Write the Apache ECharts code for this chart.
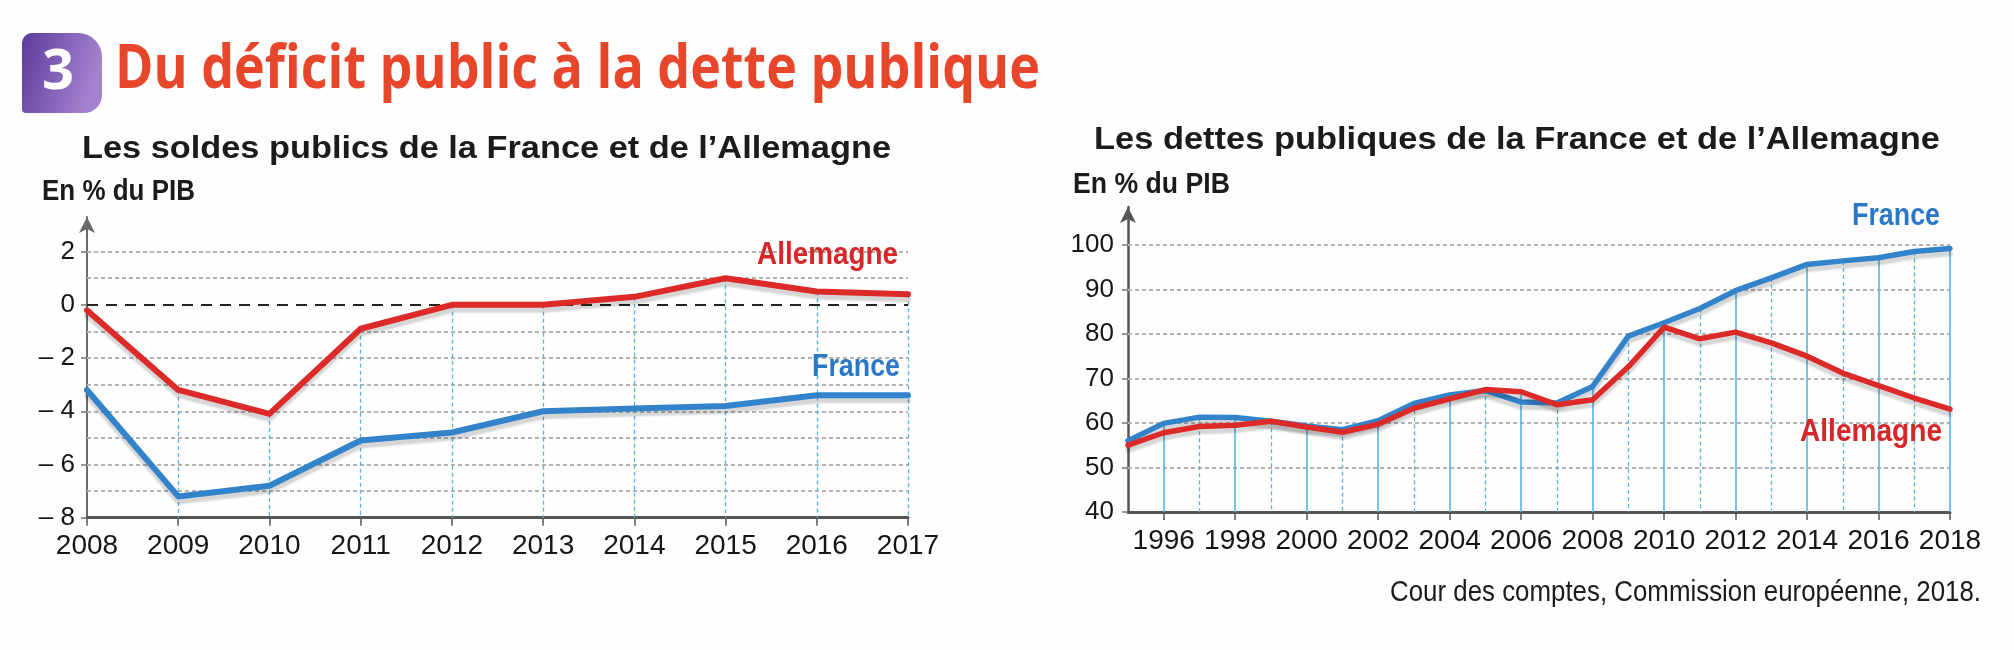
<!DOCTYPE html>
<html>
<head>
<meta charset="utf-8">
<script src="https://cdn.jsdelivr.net/npm/echarts@6/dist/echarts.min.js"></script>
<style>
html,body{margin:0;padding:0;background:#fefefe;}
#chart{width:2014px;height:650px;}
</style>
</head>
<body>
<div id="chart"></div>
<script>
// ---------- DATA ----------
const soldesYears = ['2008','2009','2010','2011','2012','2013','2014','2015','2016','2017'];
const soldesFrance = [-3.2,-7.2,-6.8,-5.1,-4.8,-4.0,-3.9,-3.8,-3.4,-3.4];
const soldesAllemagne = [-0.2,-3.2,-4.1,-0.9,0.0,0.0,0.3,1.0,0.5,0.4];
const soldesTicks = [-8,-6,-4,-2,0,2];
const soldesGrid = [-7,-6,-5,-4,-3,-2,-1,1,2];

const detteYears = ['1995','1996','1997','1998','1999','2000','2001','2002','2003','2004','2005','2006',
  '2007','2008','2009','2010','2011','2012','2013','2014','2015','2016','2017','2018'];
const detteFrance = [56.0,59.9,61.3,61.2,60.4,59.3,58.5,60.5,64.4,66.3,67.3,64.7,
  64.5,68.2,79.5,82.5,85.7,89.7,92.6,95.6,96.4,97.1,98.5,99.2];
const detteAllemagne = [55.0,57.8,59.2,59.5,60.4,59.1,57.9,59.7,63.3,65.4,67.5,67.0,
  64.1,65.2,72.6,81.5,78.9,80.4,78.0,75.0,71.2,68.4,65.6,63.1];
const detteTicks = [40,50,60,70,80,90,100];
const detteGrid = [50,60,70,80,90,100];

const soldesMin = -8, soldesMax = 3.3;
const detteMin = 40, detteMax = 108.5;

// ---------- HELPERS ----------
const ctx = document.createElement('canvas').getContext('2d');
function fitScale(text, font, target){
  ctx.font = font;
  return target / ctx.measureText(text).width;
}

const RED = '#dc2a28', BLUE = '#3383cb';
const RED_T = '#d6262a', BLUE_T = '#2c78c6';

function txt(text, x, y, opts){
  const font = (opts.weight||'bold') + ' ' + opts.size + 'px ' + (opts.family||'"Liberation Sans"');
  const sx = opts.width ? fitScale(text, font, opts.width) : 1;
  return {
    type:'text', x:x, y:y, scaleX:sx, z:100,
    style:{
      text:text, x:0, y:0,
      font: font,
      fill: opts.color || '#1b1b1b',
      textAlign: opts.align || 'left',
      textVerticalAlign: 'middle'
    }
  };
}

const negFmt = v => v < 0 ? '\u2013 ' + (-v) : String(v);

function dropLines(years, a, b, bottom, oddDashed){
  return years.map((y,i)=>{
    if (i === 0) return null;
    const dashed = oddDashed ? (+y % 2 === 1) : true;
    return [
      {coord:[y, Math.max(a[i], b[i])], lineStyle:{type: dashed ? [4,3] : 'solid', width: dashed ? 1.3 : 1.6}},
      {coord:[y, bottom]}
    ];
  }).filter(Boolean);
}

const gridLineStyle = {color:'#b3b3b3', width:2, type:[4,3]};
const dropStyle = {color:'#5ab4df', width:1.4};

const lineSeries = (name, xi, data, color, width) => ({
  type:'line', name:name, xAxisIndex:xi, yAxisIndex:xi, data:data,
  symbol:'none', z:10, silent:true, emphasis:{disabled:true},
  lineStyle:{color:color, width:width, cap:'round', join:'round',
    shadowColor:'rgba(0,0,0,0.16)', shadowOffsetY:5, shadowBlur:2}
});

const axisLabelBase = {color:'#161616', fontFamily:'"Liberation Sans", Arial, sans-serif'};

const option = {
  backgroundColor:'#fefefe',
  animation:false,
  grid:[
    {left:87, right:2014-908, top:217, bottom:650-517.7},
    {left:1128, right:2014-1950, top:207, bottom:650-512}
  ],
  xAxis:[
    {gridIndex:0, type:'category', boundaryGap:false, data:soldesYears,
      axisLine:{onZero:false, lineStyle:{color:'#555', width:3}},
      axisTick:{show:true, length:8, lineStyle:{color:'#555', width:1.5}},
      axisLabel:Object.assign({fontSize:28, margin:15}, axisLabelBase),
      splitLine:{show:false}},
    {gridIndex:1, type:'category', boundaryGap:false, data:detteYears,
      axisLine:{onZero:false, lineStyle:{color:'#555', width:3}},
      axisTick:{show:true, length:8, interval:(i,v)=>(+v)%2===0, lineStyle:{color:'#555', width:1.5}},
      axisLabel:Object.assign({fontSize:28, margin:15, interval:(i,v)=>(+v)%2===0}, axisLabelBase),
      splitLine:{show:false}}
  ],
  yAxis:[
    {gridIndex:0, type:'value', min:soldesMin, max:soldesMax,
      axisLine:{show:true, symbol:['none','arrow'], symbolSize:[12,16], lineStyle:{color:'#6a6a6a', width:2}},
      axisTick:{show:true, length:6, customValues:soldesTicks, lineStyle:{color:'#777', width:1.5}},
      axisLabel:Object.assign({fontSize:26, margin:12, customValues:soldesTicks, formatter:negFmt}, axisLabelBase),
      splitLine:{show:false}},
    {gridIndex:1, type:'value', min:detteMin, max:detteMax,
      axisLine:{show:true, symbol:['none','arrow'], symbolSize:[12,16], lineStyle:{color:'#555', width:2.5}},
      axisTick:{show:true, length:6, customValues:detteTicks, lineStyle:{color:'#777', width:1.5}},
      axisLabel:Object.assign({fontSize:26, margin:14, customValues:detteTicks}, axisLabelBase),
      splitLine:{show:false}}
  ],
  series:[
    {type:'line', xAxisIndex:0, yAxisIndex:0, data:soldesYears.map(()=>null), silent:true,
      markLine:{silent:true, z:1, symbol:['none','none'], label:{show:false}, animation:false,
        lineStyle:gridLineStyle, data:soldesGrid.map(v=>({yAxis:v}))}},
    {type:'line', xAxisIndex:0, yAxisIndex:0, data:soldesYears.map(()=>null), silent:true,
      markLine:{silent:true, z:2, symbol:['none','none'], label:{show:false}, animation:false,
        lineStyle:dropStyle, data:dropLines(soldesYears, soldesFrance, soldesAllemagne, soldesMin, false)}},
    {type:'line', xAxisIndex:0, yAxisIndex:0, data:soldesYears.map(()=>null), silent:true,
      markLine:{silent:true, z:3, symbol:['none','none'], label:{show:false}, animation:false,
        lineStyle:{color:'#222', width:2, type:[11,8]}, data:[{yAxis:0}]}},
    lineSeries('France', 0, soldesFrance, BLUE, 6),
    lineSeries('Allemagne', 0, soldesAllemagne, RED, 6),
    {type:'line', xAxisIndex:1, yAxisIndex:1, data:detteYears.map(()=>null), silent:true,
      markLine:{silent:true, z:1, symbol:['none','none'], label:{show:false}, animation:false,
        lineStyle:gridLineStyle, data:detteGrid.map(v=>({yAxis:v}))}},
    {type:'line', xAxisIndex:1, yAxisIndex:1, data:detteYears.map(()=>null), silent:true,
      markLine:{silent:true, z:2, symbol:['none','none'], label:{show:false}, animation:false,
        lineStyle:dropStyle, data:dropLines(detteYears, detteFrance, detteAllemagne, detteMin, true)}},
    lineSeries('France', 1, detteFrance, BLUE, 5.5),
    lineSeries('Allemagne', 1, detteAllemagne, RED, 5.5)
  ],
  graphic:[
    {type:'rect', x:22, y:33, z:100, shape:{width:80, height:80, r:[10,24,18,4]},
      style:{fill:{type:'linear', x:0, y:0, x2:1, y2:0.3,
        colorStops:[{offset:0, color:'#5b3b9c'},{offset:1, color:'#a582cf'}]}}},
    txt('3', 58, 73, {size:56, family:'"Open Sans"', color:'#ffffff', align:'center'}),
    txt('Du déficit public à la dette publique', 115, 71, {size:61, family:'"Open Sans"', width:925, color:'#e8462b'}),
    txt('Les soldes publics de la France et de l\u2019Allemagne', 82, 149, {size:32, width:809}),
    txt('Les dettes publiques de la France et de l\u2019Allemagne', 1094, 140, {size:32, width:846}),
    txt('En % du PIB', 42, 192, {size:29, width:153}),
    txt('En % du PIB', 1073, 185, {size:29, width:157}),
    txt('Allemagne', 898, 255, {size:31, width:141, color:RED_T, align:'right'}),
    txt('France', 900, 367, {size:31, width:88, color:BLUE_T, align:'right'}),
    txt('France', 1940, 216, {size:31, width:88, color:BLUE_T, align:'right'}),
    txt('Allemagne', 1942, 432, {size:31, width:142, color:RED_T, align:'right'}),
    txt('Cour des comptes, Commission européenne, 2018.', 1981, 593, {size:29, weight:'normal', width:591, align:'right'})
  ]
};

const chart = echarts.init(document.getElementById('chart'), null, {renderer:'canvas'});
chart.setOption(option);
</script>
</body>
</html>
